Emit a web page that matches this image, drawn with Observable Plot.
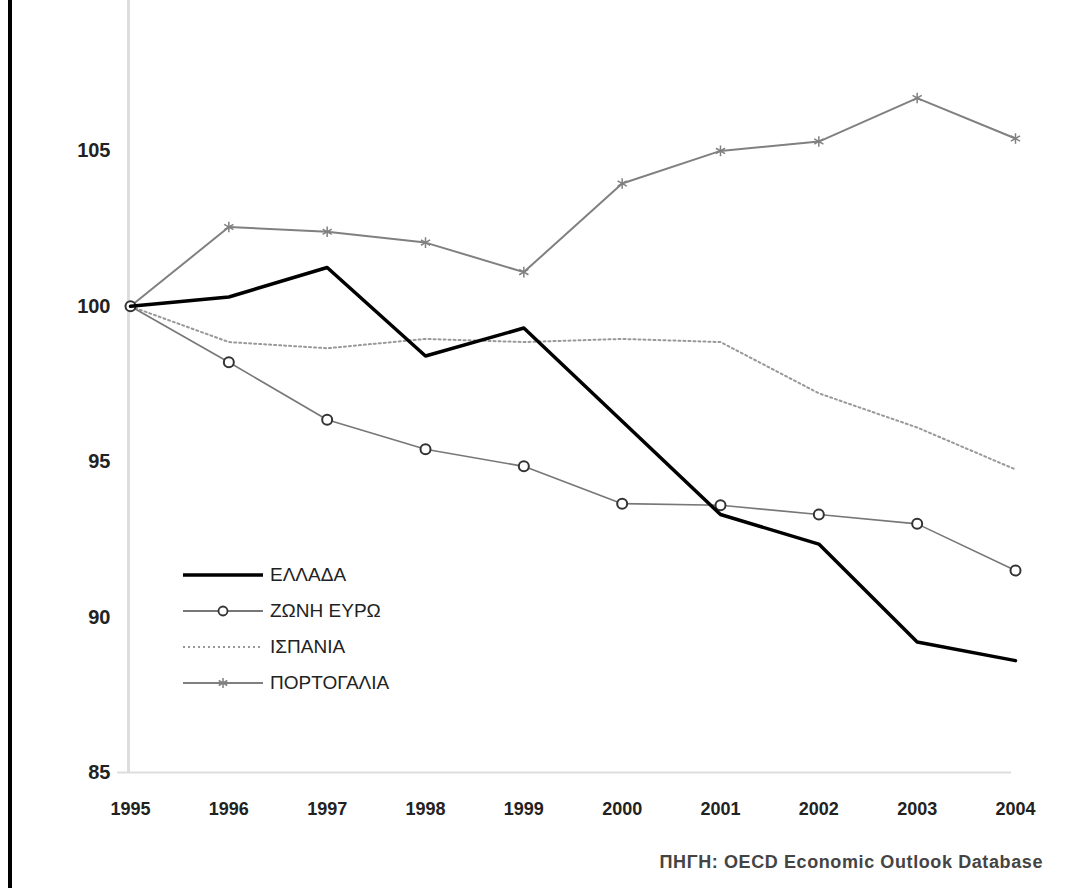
<!DOCTYPE html>
<html>
<head>
<meta charset="utf-8">
<script src="https://cdn.jsdelivr.net/npm/d3@7"></script>
<script src="https://cdn.jsdelivr.net/npm/@observablehq/plot@0.6"></script>
<style>
  html, body { margin: 0; padding: 0; background: #fff; }
  #wrap { position: relative; width: 1073px; height: 888px; overflow: hidden; font-family: "Liberation Sans", Arial, sans-serif; }
  #bar { position: absolute; left: 8px; top: 0; width: 4px; height: 888px; background: #000; }
  #legend { position: absolute; left: 183px; top: 557px; }
  .row { display: flex; align-items: center; height: 36px; }
  .row span { margin-left: 7px; font-size: 19px; color: #222; }
  #source { position: absolute; right: 30px; top: 852px; font-size: 18px; color: #444; font-weight: bold; letter-spacing: 0.6px; }
</style>
</head>
<body>
<div id="wrap">
  <div id="chart"></div>
  <div id="bar"></div>
  <div id="legend"></div>
  <div id="source">ΠΗΓΗ: OECD Economic Outlook Database</div>
</div>
<script>
const years = [1995, 1996, 1997, 1998, 1999, 2000, 2001, 2002, 2003, 2004];
const seriesNames = ["ΕΛΛΑΔΑ", "ΖΩΝΗ ΕΥΡΩ", "ΙΣΠΑΝΙΑ", "ΠΟΡΤΟΓΑΛΙΑ"];
const greece   = [100, 100.3, 101.25, 98.4, 99.3, 96.3, 93.3, 92.35, 89.2, 88.6];
const euroZone = [100, 98.2, 96.35, 95.4, 94.85, 93.65, 93.6, 93.3, 93.0, 91.5];
const spain    = [100, 98.85, 98.65, 98.95, 98.85, 98.95, 98.85, 97.2, 96.1, 94.75];
const portugal = [100, 102.55, 102.4, 102.05, 101.1, 103.95, 105.0, 105.3, 106.7, 105.4];
const yTicks = [85, 90, 95, 100, 105];

const toRows = (vals) => years.map((y, i) => ({year: y, value: vals[i]}));
const gr = toRows(greece), eu = toRows(euroZone), es = toRows(spain), pt = toRows(portugal);

const chart = Plot.plot({
  width: 1073,
  height: 888,
  marginLeft: 130,
  marginRight: 58,
  marginBottom: 116,
  marginTop: 0,
  style: {fontFamily: "'Liberation Sans', Arial, sans-serif", background: "#fff"},
  x: {domain: [1995, 2004], axis: null},
  y: {domain: [85, 110], range: [772, -5], axis: null},
  marks: [
    Plot.ruleX([1995], {y1: 85, y2: 110, stroke: "#ddd", strokeWidth: 3, dx: -2}),
    Plot.ruleY([85], {x1: 1994.87, x2: 2003.96, stroke: "#ddd", strokeWidth: 2}),
    Plot.axisY({ticks: yTicks, label: null, tickSize: 0, tickPadding: 20, fontSize: 20, fontWeight: "bold", fill: "#222", tickFormat: d => String(d)}),
    Plot.axisX({ticks: years, label: null, tickSize: 0, tickPadding: 30, fontSize: 18, fontWeight: "bold", fill: "#222", tickFormat: d => String(d), letterSpacing: "-0.5px"}),
    Plot.line(es, {x: "year", y: "value", stroke: "#999", strokeWidth: 2, strokeDasharray: "2,3"}),
    Plot.line(pt, {x: "year", y: "value", stroke: "#808080", strokeWidth: 2}),
    Plot.dot(pt, {x: "year", y: "value", symbol: "asterisk", r: 5, stroke: "#808080", strokeWidth: 1.5}),
    Plot.line(eu, {x: "year", y: "value", stroke: "#777", strokeWidth: 1.6}),
    Plot.dot(eu, {x: "year", y: "value", r: 5, fill: "#fff", stroke: "#333", strokeWidth: 2}),
    Plot.line(gr, {x: "year", y: "value", stroke: "#000", strokeWidth: 3.5})
  ]
});
document.getElementById("chart").appendChild(chart);

// Legend
const swatches = [
  `<line x1="0" y1="10" x2="80" y2="10" stroke="#000" stroke-width="3.5"/>`,
  `<line x1="0" y1="10" x2="80" y2="10" stroke="#777" stroke-width="1.8"/><circle cx="40" cy="10" r="4.5" fill="#fff" stroke="#333" stroke-width="1.8"/>`,
  `<line x1="0" y1="10" x2="80" y2="10" stroke="#999" stroke-width="2" stroke-dasharray="2,3"/>`,
  `<line x1="0" y1="10" x2="80" y2="10" stroke="#808080" stroke-width="2"/><path d="M40,5V15M35.7,7.5L44.3,12.5M35.7,12.5L44.3,7.5" stroke="#808080" stroke-width="1.5"/>`
];
const legend = document.getElementById("legend");
seriesNames.forEach((name, i) => {
  const row = document.createElement("div");
  row.className = "row";
  row.innerHTML = `<svg width="80" height="20">${swatches[i]}</svg><span>${name}</span>`;
  legend.appendChild(row);
});
</script>
</body>
</html>
